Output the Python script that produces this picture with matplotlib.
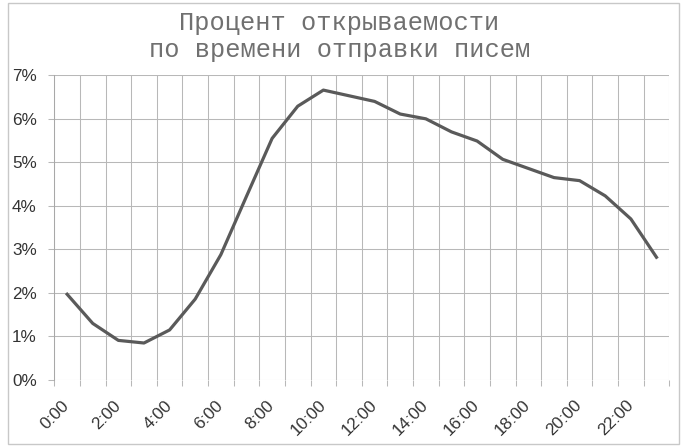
import matplotlib
matplotlib.use("Agg")
import matplotlib.pyplot as plt
from matplotlib.patches import Rectangle
from matplotlib.ticker import FixedLocator, PercentFormatter

# hourly open rate, %
hours = [f"{h}:00" for h in range(24)]
open_rate = [1.97, 1.30, 0.91, 0.85, 1.15, 1.86, 2.88, 4.22, 5.55, 6.29,
             6.66, 6.53, 6.40, 6.11, 6.00, 5.70, 5.49, 5.07, 4.86, 4.65,
             4.58, 4.23, 3.70, 2.82]
title_lines = ["Процент открываемости", "по времени отправки писем"]
y_ticks = [0, 1, 2, 3, 4, 5, 6, 7]

W, H = 685, 448
fig = plt.figure(figsize=(W / 100, H / 100), dpi=100)
fig.patch.set_facecolor("white")

# outer chart border
fig.patches.append(Rectangle((7.5 / W, 1 - 444 / H), (679 - 7.5) / W, (444 - 3) / H,
                             transform=fig.transFigure, fill=False,
                             edgecolor="#c8c8c8", linewidth=1.0))

ax = fig.add_axes([54.3 / W, 1 - 380 / H, (669.3 - 54.3) / W, (380 - 75.3) / H])

x = list(range(len(hours)))
ax.plot(x, open_rate, color="#5a5a5a", linewidth=2.3, solid_joinstyle="round")

ax.set_xlim(-0.5, len(hours) - 0.5)
ax.set_ylim(0, 7)

grid_col = "#b8b8b8"
# category boundaries: gridlines + tick marks
ax.xaxis.set_minor_locator(FixedLocator([i - 0.5 for i in range(len(hours) + 1)]))
ax.xaxis.set_major_locator(FixedLocator(x[::2]))
ax.set_xticklabels(hours[::2])
ax.grid(True, which="minor", axis="x", color=grid_col, linewidth=0.75)
ax.grid(True, which="major", axis="y", color=grid_col, linewidth=0.75)
ax.tick_params(axis="x", which="minor", length=4.3, width=0.75, color=grid_col)
ax.tick_params(axis="x", which="major", length=0, pad=16.5)

ax.set_yticks(y_ticks)
ax.yaxis.set_major_formatter(PercentFormatter(decimals=0))
ax.tick_params(axis="y", which="major", length=4.3, width=0.75, color=grid_col, pad=8.4)

for lbl in ax.get_xticklabels():
    lbl.set_rotation(45)
    lbl.set_ha("right")
    lbl.set_va("center")
    lbl.set_rotation_mode("anchor")
for lbl in ax.get_xticklabels() + ax.get_yticklabels():
    lbl.set_fontfamily("Liberation Sans")
    lbl.set_fontsize(12.3)
    lbl.set_color("#333333")

for side in ["top", "right", "bottom"]:
    ax.spines[side].set_visible(False)
ax.spines["left"].set_color("#a8a8a8")
ax.spines["left"].set_linewidth(0.75)
ax.set_axisbelow(True)

fig.text(339.5 / W, 1 - 30 / H, title_lines[0], ha="center", va="baseline",
         family="Liberation Mono", fontsize=18.3, color="#707070")
fig.text(339.5 / W, 1 - 57.3 / H, title_lines[1], ha="center", va="baseline",
         family="Liberation Mono", fontsize=18.3, color="#707070")

fig.savefig("out.png", dpi=100, facecolor="white")
